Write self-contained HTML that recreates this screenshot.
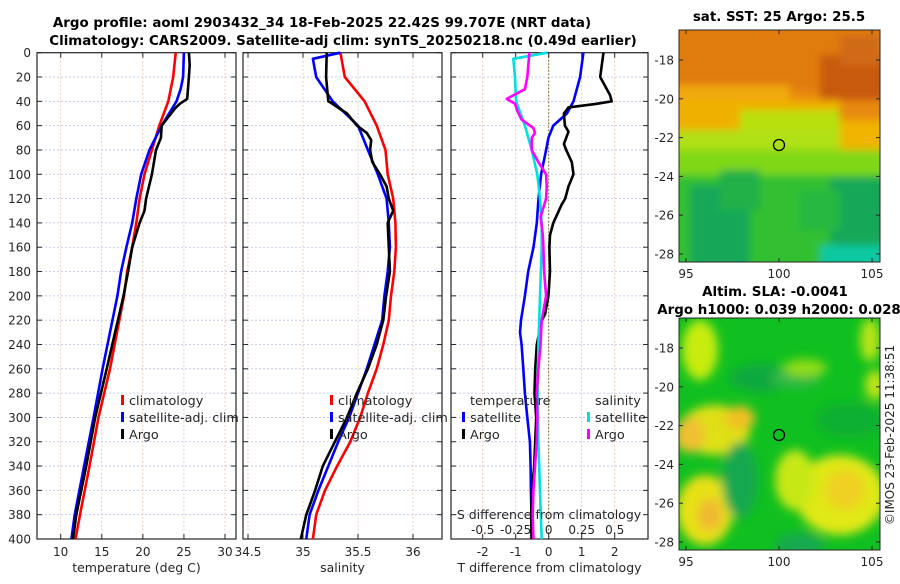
<!DOCTYPE html>
<html><head><meta charset="utf-8">
<style>
html,body{margin:0;padding:0;background:#fff;}
body{width:900px;height:580px;overflow:hidden;font-family:"DejaVu Sans","Liberation Sans",sans-serif;}
svg text{font-family:"DejaVu Sans","Liberation Sans",sans-serif;fill:#262626;}
</style></head>
<body>
<svg id="fig" width="900" height="580" viewBox="0 0 900 580" xmlns="http://www.w3.org/2000/svg">
<defs>
<filter id="blur4" x="-20%" y="-20%" width="140%" height="140%"><feGaussianBlur stdDeviation="5"/></filter>
<filter id="blur2" filterUnits="userSpaceOnUse" x="660" y="10" width="240" height="270"><feGaussianBlur stdDeviation="4"/></filter>
<clipPath id="clipSST"><rect x="679" y="30" width="201" height="232"/></clipPath>
<clipPath id="clipSLA"><rect x="679" y="318" width="201" height="232"/></clipPath>
</defs>
<text x="322" y="27" font-size="13.4" font-weight="bold" text-anchor="middle" style="fill:#000">Argo profile: aoml 2903432_34 18-Feb-2025 22.42S 99.707E (NRT data)</text>
<text x="343" y="45" font-size="13.4" font-weight="bold" text-anchor="middle" style="fill:#000">Climatology: CARS2009. Satellite-adj clim: synTS_20250218.nc (0.49d earlier)</text>

<g id="sst-map">
  <g clip-path="url(#clipSST)">
    <rect x="679" y="30" width="201" height="232" fill="#e88a10"/>
    <g filter="url(#blur2)">
      <rect x="660" y="20" width="240" height="70" fill="#e07c10"/>
      <rect x="820" y="55" width="70" height="45" fill="#c85a10"/>
      <rect x="840" y="35" width="40" height="30" fill="#d06a12"/>
      <rect x="660" y="85" width="130" height="30" fill="#f0a808"/>
      <rect x="660" y="100" width="180" height="30" fill="#f0b000"/>
      <rect x="740" y="110" width="100" height="40" fill="#b8e010"/>
      <rect x="660" y="130" width="240" height="40" fill="#b0e014"/>
      <rect x="840" y="120" width="60" height="50" fill="#f0b400"/>
      <rect x="660" y="150" width="240" height="30" fill="#80d818"/>
      <rect x="660" y="175" width="240" height="100" fill="#30c030"/>
      <rect x="690" y="185" width="60" height="90" fill="#18a858"/>
      <rect x="720" y="170" width="40" height="40" fill="#20b048"/>
      <rect x="830" y="178" width="70" height="85" fill="#18a858"/>
      <rect x="800" y="190" width="40" height="40" fill="#28b840"/>
      <rect x="820" y="245" width="80" height="30" fill="#10c8a0"/>
    </g>
    <circle cx="779" cy="145" r="5.5" fill="none" stroke="#000" stroke-width="1.3"/>
  </g>
  <rect x="679" y="30" width="201" height="232" fill="none" stroke="#262626" stroke-width="1"/>
  <text x="779" y="21" font-size="13.4" font-weight="bold" text-anchor="middle" style="fill:#000">sat. SST: 25 Argo: 25.5</text>
</g>

<g id="sla-map">
  <g clip-path="url(#clipSLA)">
    <rect x="679" y="318" width="201" height="232" fill="#10c020"/>
    <g filter="url(#blur4)">
      <ellipse cx="700" cy="350" rx="18" ry="30" fill="#c8ec10"/>
      <ellipse cx="760" cy="378" rx="30" ry="14" fill="#10a840"/>
      <ellipse cx="795" cy="378" rx="25" ry="10" fill="#30b848"/>
      <ellipse cx="805" cy="368" rx="22" ry="9" fill="#90dc18"/>
      <ellipse cx="870" cy="340" rx="10" ry="22" fill="#b8e414"/>
      <ellipse cx="875" cy="385" rx="10" ry="15" fill="#c0e414"/>
      <ellipse cx="715" cy="430" rx="35" ry="25" fill="#e0e018"/>
      <ellipse cx="740" cy="418" rx="15" ry="12" fill="#f0c020"/>
      <ellipse cx="690" cy="435" rx="15" ry="18" fill="#f0c030"/>
      <ellipse cx="840" cy="495" rx="45" ry="40" fill="#e0e818"/>
      <ellipse cx="845" cy="490" rx="20" ry="20" fill="#f0d020"/>
      <ellipse cx="795" cy="480" rx="20" ry="30" fill="#c8e818"/>
      <ellipse cx="705" cy="510" rx="28" ry="35" fill="#e8e018"/>
      <ellipse cx="710" cy="515" rx="12" ry="16" fill="#f0b830"/>
      <ellipse cx="740" cy="480" rx="18" ry="38" fill="#18a850"/>
      <ellipse cx="800" cy="545" rx="25" ry="12" fill="#18a850"/>
      <ellipse cx="850" cy="420" rx="35" ry="18" fill="#10b030"/>
    </g>
    <circle cx="779" cy="435" r="5.5" fill="none" stroke="#000" stroke-width="1.3"/>
  </g>
  <rect x="679" y="318" width="201" height="232" fill="none" stroke="#262626" stroke-width="1"/>
  <text x="775" y="296" font-size="13.4" font-weight="bold" text-anchor="middle" style="fill:#000">Altim. SLA: -0.0041</text>
  <text x="779" y="314" font-size="13.4" font-weight="bold" text-anchor="middle" style="fill:#000">Argo h1000: 0.039 h2000: 0.028</text>
</g>
<text transform="translate(894,435) rotate(-90)" font-size="12" text-anchor="middle">©IMOS 23-Feb-2025 11:38:51</text>
<g id="plots"></g>
</svg>
<script>
// ---- data ----
const depthTicks = [0,20,40,60,80,100,120,140,160,180,200,220,240,260,280,300,320,340,360,380,400];
const tempTicks = [10,15,20,25,30];
const salTicks = [34.5,35,35.5,36];
const salTickLabels = ["34.5","35","35.5","36"];
const tdTicks = [-2,-1,0,1,2];
const sdTicks = [-0.5,-0.25,0,0.25,0.5];
const sdTickLabels = ["-0.5","-0.25","0","0.25","0.5"];
const lonTicks = [95,100,105];
const latTicks = [-18,-20,-22,-24,-26,-28];

const climTempDepth = [0,20,40,60,80,100,120,140,160,180,200,260,300,340,380,400];
const climTemp = [24.0,23.7,23.1,22.0,21.1,20.2,19.6,19.2,18.7,18.1,17.7,16.0,14.6,13.5,12.35,11.8];
const satTempDepth = [0,20,30,40,60,80,100,120,140,160,180,200,260,300,340,380,400];
const satTemp = [25.0,24.9,24.6,24.1,22.3,20.8,19.8,19.2,18.7,18.0,17.35,16.9,15.1,14.0,12.85,11.7,11.3];
const argoTempDepth = [0,10,20,38,42,46,60,70,80,100,120,130,140,160,180,200,260,300,340,380,400];
const argoTemp = [25.6,25.7,25.6,25.4,24.5,23.9,22.3,22.2,21.6,21.1,20.4,20.2,19.6,18.7,18.2,17.65,15.6,14.2,13.1,11.9,11.5];

const climSalDepth = [0,20,40,60,80,100,120,140,160,180,200,220,240,260,280,300,320,340,360,380,400];
const climSal = [35.34,35.38,35.56,35.67,35.75,35.77,35.82,35.84,35.845,35.83,35.80,35.78,35.73,35.67,35.59,35.52,35.43,35.31,35.20,35.12,35.09];
const satSalDepth = [0,5,20,40,60,80,100,120,140,160,180,200,220,240,260,280,300,320,340,360,380,400];
const satSal = [35.34,35.09,35.12,35.27,35.50,35.59,35.68,35.76,35.78,35.79,35.77,35.74,35.72,35.65,35.58,35.50,35.42,35.32,35.23,35.14,35.06,35.03];
const argoSalDepth = [0,20,40,41,50,60,66,72,80,90,100,110,120,130,140,160,180,200,220,240,260,280,300,320,340,360,380,400];
const argoSal = [35.215,35.21,35.23,35.25,35.40,35.49,35.58,35.62,35.61,35.63,35.70,35.76,35.78,35.82,35.77,35.78,35.79,35.755,35.73,35.67,35.59,35.49,35.40,35.29,35.18,35.11,35.03,34.98];

const satTdDepth = [0,20,40,50,60,70,80,100,120,140,160,180,200,220,230,240,260,280,300,320,340,360,380,400];
const satTd = [1.05,0.95,0.75,0.55,0.14,-0.01,-0.08,-0.23,-0.31,-0.36,-0.46,-0.62,-0.72,-0.84,-0.87,-0.82,-0.77,-0.72,-0.65,-0.57,-0.55,-0.54,-0.52,-0.49];
const argoTdDepth = [0,10,20,35,40,42,45,50,60,65,75,80,90,100,110,120,125,140,150,160,180,200,215,220,240,260,280,300,320,340,360,380,400];
const argoTd = [1.66,1.61,1.56,1.86,1.91,1.45,0.6,0.46,0.49,0.6,0.46,0.53,0.70,0.75,0.6,0.50,0.39,0.14,0.04,0.02,0.04,-0.01,-0.11,-0.21,-0.36,-0.41,-0.43,-0.38,-0.41,-0.44,-0.51,-0.53,-0.52];
const satSdDepth = [0,5,20,40,60,80,100,120,140,160,200,240,280,320,360,400];
const satSd = [-0.01,-0.268,-0.255,-0.247,-0.18,-0.129,-0.086,-0.066,-0.053,-0.053,-0.066,-0.078,-0.083,-0.078,-0.066,-0.053];
const argoSdDepth = [0,20,30,38,42,48,55,62,66,70,80,90,100,110,120,135,150,160,180,200,220,240,260,280,300,320,340,360,380,400];
const argoSd = [-0.146,-0.162,-0.18,-0.318,-0.255,-0.237,-0.205,-0.116,-0.104,-0.129,-0.129,-0.078,-0.02,-0.015,-0.02,-0.061,-0.045,-0.04,-0.035,-0.02,-0.053,-0.061,-0.078,-0.091,-0.086,-0.091,-0.104,-0.116,-0.121,-0.116];

// ---- layout ----
const NS = "http://www.w3.org/2000/svg";
const root = document.getElementById('plots');
const Y0 = 52.7, Y1 = 539;
const yD = d => Y0 + (d/400)*(Y1-Y0);
function lin(d0,d1,r0,r1){return v => r0 + (v-d0)/(d1-d0)*(r1-r0);}
function mk(tag, attrs, parent){const e=document.createElementNS(NS,tag);for(const k in attrs)e.setAttribute(k,attrs[k]);(parent||root).appendChild(e);return e;}

const panels = [
  {x0:37,x1:236,scale:lin(10,30,60.7,225),ticks:tempTicks,labels:tempTicks.map(String),title:"temperature (deg C)",name:"temperature-panel"},
  {x0:243,x1:442,scale:lin(35,36,303,413),ticks:salTicks,labels:salTickLabels,title:"salinity",name:"salinity-panel"},
  {x0:451,x1:648,scale:lin(0,1,548.7,581.7),ticks:tdTicks,labels:tdTicks.map(String),title:"T difference from climatology",name:"difference-panel"}
];

panels.forEach((p,i)=>{
  const g = mk('g',{});
  
  
  depthTicks.forEach(d=>{
    const l = mk('line',{x1:p.x0,x2:p.x1,y1:yD(d),y2:yD(d),stroke:'#b8c0e8','stroke-width':0.8,'stroke-dasharray':'2,2'},g);
    
    
  });
  p.ticks.forEach(t=>{
    const x = p.scale(t);
    const l = mk('line',{x1:x,x2:x,y1:Y0,y2:Y1,stroke:'#e8c0a8','stroke-width':0.8,'stroke-dasharray':'2,2'},g);
    
    
  });
  if(i===2){
    const z = mk('line',{x1:p.scale(0),x2:p.scale(0),y1:Y0,y2:Y1,stroke:'#6a5a30','stroke-width':1,'stroke-dasharray':'1.5,2'},g);
    
    
  }
  const fr = mk('rect',{x:p.x0,y:Y0,width:p.x1-p.x0,height:Y1-Y0,fill:'none',stroke:'#262626','stroke-width':1.2},g);
  
  
  depthTicks.forEach(d=>{
    mk('line',{x1:p.x0,x2:p.x0+5,y1:yD(d),y2:yD(d),stroke:'#262626','stroke-width':1},g);
    mk('line',{x1:p.x1-5,x2:p.x1,y1:yD(d),y2:yD(d),stroke:'#262626','stroke-width':1},g);
  });
  p.ticks.forEach(t=>{
    const x=p.scale(t);
    mk('line',{x1:x,x2:x,y1:Y1,y2:Y1-5,stroke:'#262626','stroke-width':1},g);
    mk('line',{x1:x,x2:x,y1:Y0,y2:Y0+5,stroke:'#262626','stroke-width':1},g);
  });
  p.labels.forEach((lab,j)=>{
    const t = mk('text',{x:p.scale(p.ticks[j]),y:556,'font-size':12,'text-anchor':'middle'},g);
    t.textContent = lab;
    
    
  });
  const tt = mk('text',{x:(p.x0+p.x1)/2,y:572,'font-size':12.5,'text-anchor':'middle'},g);
  tt.textContent = p.title;
  
  
});

depthTicks.forEach(d=>{
  const t = mk('text',{x:31,y:yD(d)+4.5,'font-size':12,'text-anchor':'end'});
  t.textContent = String(d);
  
  
});

function series(depths, vals, scale, color, name, w){
  const pts = depths.map((d,i)=>scale(vals[i]).toFixed(1)+','+yD(d).toFixed(1)).join(' ');
  const pl = mk('polyline',{points:pts,fill:'none',stroke:color,'stroke-width':w||2.6,'stroke-linejoin':'round'});
  
  
}
const sS = lin(0,0.25,548.7,581.7);
series(climTempDepth, climTemp, panels[0].scale, '#ff0000', 'climatology-temperature-line');
series(satTempDepth, satTemp, panels[0].scale, '#0000ff', 'satellite-temperature-line');
series(argoTempDepth, argoTemp, panels[0].scale, '#000000', 'argo-temperature-line');
series(climSalDepth, climSal, panels[1].scale, '#ff0000', 'climatology-salinity-line');
series(satSalDepth, satSal, panels[1].scale, '#0000ff', 'satellite-salinity-line');
series(argoSalDepth, argoSal, panels[1].scale, '#000000', 'argo-salinity-line');
series(satTdDepth, satTd, panels[2].scale, '#0000ff', 'satellite-t-difference-line');
series(argoTdDepth, argoTd, panels[2].scale, '#000000', 'argo-t-difference-line');
series(satSdDepth, satSd, sS, '#00e0e0', 'satellite-s-difference-line');
series(argoSdDepth, argoSd, sS, '#ff00ff', 'argo-s-difference-line');

const sl = mk('text',{x:549,y:519,'font-size':12.5,'text-anchor':'middle'});
sl.textContent = 'S difference from climatology';


sdTickLabels.forEach((lab,j)=>{
  const t = mk('text',{x:sS(sdTicks[j]),y:534,'font-size':12,'text-anchor':'middle'});
  t.textContent = lab;
  
  
});

function legend(x, y, color, label){
  const g = mk('g',{});
  
  
  mk('rect',{x:x-8,y:y-10,width:3,height:10,fill:color},g);
  const t = mk('text',{x:x,y:y,'font-size':12.8},g);
  t.textContent = label;
}
legend(129,405,'#ff0000','climatology');
legend(129,422,'#0000ff','satellite-adj. clim');
legend(129,439,'#000000','Argo');
legend(338,405,'#ff0000','climatology');
legend(338,422,'#0000ff','satellite-adj. clim');
legend(338,439,'#000000','Argo');
const lt = mk('text',{x:470,y:405,'font-size':12.8});
lt.textContent='temperature';


const ls = mk('text',{x:595,y:405,'font-size':12.8});
ls.textContent='salinity';


legend(470,422,'#0000ff','satellite');
legend(470,439,'#000000','Argo');
legend(595,422,'#00e0e0','satellite');
legend(595,439,'#ff00ff','Argo');

const lonX = lin(95,105,686,872);
[[30,262],[318,550]].forEach((m,k)=>{
  const latY = lin(-18,-28,m[0]+30,m[0]+224);
  lonTicks.forEach(l=>{
    const x=lonX(l);
    mk('line',{x1:x,x2:x,y1:m[1],y2:m[1]-4,stroke:'#262626'});
    mk('line',{x1:x,x2:x,y1:m[0],y2:m[0]+4,stroke:'#262626'});
    const t = mk('text',{x:x,y:m[1]+16,'font-size':12,'text-anchor':'middle'});
    t.textContent=String(l);
    
    
  });
  latTicks.forEach(l=>{
    const y=latY(l);
    mk('line',{x1:679,x2:683,y1:y,y2:y,stroke:'#262626'});
    mk('line',{x1:876,x2:880,y1:y,y2:y,stroke:'#262626'});
    const t = mk('text',{x:674,y:y+4.5,'font-size':12,'text-anchor':'end'});
    t.textContent=String(l);
    
    
  });
});
</script>
</body></html>
